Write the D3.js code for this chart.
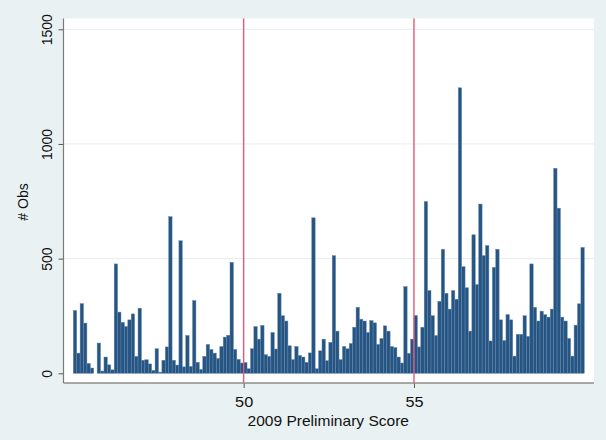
<!DOCTYPE html>
<html>
<head>
<meta charset="utf-8">
<script src="https://cdn.jsdelivr.net/npm/d3@7"></script>
<style>
  html, body { margin: 0; padding: 0; background: #e9f1f3; }
  svg { display: block; font-family: "Liberation Sans", Arial, sans-serif; }
</style>
</head>
<body>
<svg id="chart" width="606" height="440"></svg>
<script>
// histogram of 2009 preliminary scores, bins of 0.1 starting at 45.0
var binStart = 45, binWidth = 0.1;
var counts = [
  274, 88, 304, 219, 43, 23, 0, 132, 10, 71,
  37, 15, 477, 267, 222, 204, 233, 259, 74, 284,
  57, 59, 41, 13, 107, 5, 57, 115, 683, 57,
  36, 578, 28, 165, 30, 317, 48, 17, 74, 126,
  104, 88, 65, 117, 158, 166, 484, 104, 61, 45,
  47, 20, 107, 204, 149, 209, 81, 74, 178, 106,
  349, 251, 228, 120, 60, 117, 78, 71, 48, 89,
  678, 20, 98, 149, 55, 135, 513, 184, 60, 117,
  107, 130, 201, 288, 236, 228, 178, 230, 220, 126,
  152, 207, 184, 117, 112, 71, 45, 378, 87, 149,
  252, 115, 201, 749, 361, 251, 165, 314, 541, 349,
  280, 361, 323, 1245, 465, 373, 184, 604, 387, 738,
  513, 557, 141, 462, 541, 233, 143, 256, 233, 75,
  170, 170, 251, 161, 477, 288, 228, 271, 256, 245,
  280, 894, 720, 245, 228, 152, 75, 210, 303, 549
];
var xTicks = [50, 55];
var yTicks = [0, 500, 1000, 1500];
var cutoffs = [50, 55];
var xTitle = "2009 Preliminary Score";
var yTitle = "# Obs";

var svg = d3.select("#chart");
var region = {left: 63.5, right: 594, top: 18.5, bottom: 383};

var x = d3.scaleLinear().domain([45, 60]).range([73.3, 584.3]);
var y = d3.scaleLinear().domain([0, 1500]).range([373.3, 29.3]);

svg.append("rect").attr("width", 606).attr("height", 440).attr("fill", "#e9f1f3");
svg.append("rect")
  .attr("x", region.left).attr("y", region.top)
  .attr("width", region.right - region.left).attr("height", region.bottom - region.top)
  .attr("fill", "#ffffff");

// grid lines
svg.append("g").selectAll("line").data(yTicks.filter(function (d) { return d > 0; }))
  .enter().append("line")
  .attr("x1", region.left).attr("x2", region.right)
  .attr("y1", function (d) { return y(d); }).attr("y2", function (d) { return y(d); })
  .attr("stroke", "#e4edf0").attr("stroke-width", 1);

// bars
var bins = counts.map(function (c, i) {
  return {x0: binStart + i * binWidth, x1: binStart + (i + 1) * binWidth, n: c};
});
svg.append("g").selectAll("rect").data(bins.filter(function (d) { return d.n > 0; }))
  .enter().append("rect")
  .attr("x", function (d) { return x(d.x0); })
  .attr("width", function (d) { return x(d.x1) - x(d.x0); })
  .attr("y", function (d) { return y(d.n); })
  .attr("height", function (d) { return y(0) - y(d.n); })
  .attr("fill", "#275583")
  .attr("stroke", "#6288ad")
  .attr("stroke-width", 0.45);

// cutoff lines
svg.append("g").selectAll("line").data(cutoffs)
  .enter().append("line")
  .attr("x1", function (d) { return x(d); }).attr("x2", function (d) { return x(d); })
  .attr("y1", region.top).attr("y2", region.bottom)
  .attr("stroke", "#e4587a").attr("stroke-width", 1.4);

// axes
var xAxis = svg.append("g").attr("transform", "translate(0," + region.bottom + ")")
  .call(d3.axisBottom(x).tickValues(xTicks).tickSize(5).tickSizeOuter(0).tickFormat(d3.format("d")));
xAxis.select(".domain").remove();
xAxis.selectAll(".tick line").attr("stroke", "#555").attr("stroke-width", 1);
xAxis.selectAll(".tick text")
  .attr("y", 0).attr("dy", 0)
  .attr("transform", "translate(0,23.5) scale(1.12,1)")
  .attr("font-size", 14.5).attr("fill", "#111");

var yAxis = svg.append("g").attr("transform", "translate(" + region.left + ",0)")
  .call(d3.axisLeft(y).tickValues(yTicks).tickSize(5).tickSizeOuter(0).tickFormat(d3.format("d")));
yAxis.select(".domain").remove();
yAxis.selectAll(".tick line").attr("stroke", "#555").attr("stroke-width", 1);
yAxis.selectAll(".tick text")
  .attr("x", 0).attr("dy", 0)
  .attr("text-anchor", "middle")
  .attr("transform", "translate(-12,0) scale(1.11,1) rotate(-90)")
  .attr("font-size", 14).attr("fill", "#111");

svg.append("line")
  .attr("x1", region.left).attr("x2", region.right)
  .attr("y1", region.bottom).attr("y2", region.bottom)
  .attr("stroke", "#8c8c8c").attr("stroke-width", 1.5);
svg.append("line")
  .attr("x1", region.left).attr("x2", region.left)
  .attr("y1", region.top).attr("y2", region.bottom)
  .attr("stroke", "#7a7a7a").attr("stroke-width", 1.2);

svg.append("text")
  .attr("transform", "translate(" + ((region.left + region.right) / 2 - 0.5) + ",426) scale(1.11,1)")
  .attr("text-anchor", "middle").attr("font-size", 14).attr("fill", "#111")
  .text(xTitle);
svg.append("text")
  .attr("transform", "translate(28,202) scale(1.11,1) rotate(-90)")
  .attr("text-anchor", "middle").attr("font-size", 14).attr("fill", "#111")
  .text(yTitle);
</script>
</body>
</html>
